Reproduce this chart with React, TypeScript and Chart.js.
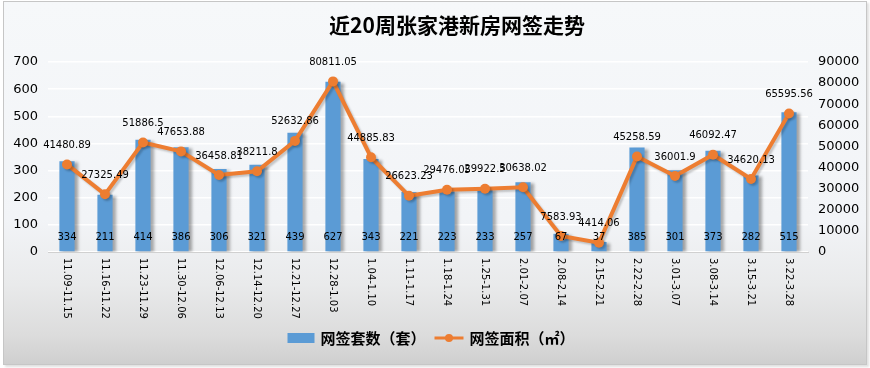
import React, { useEffect, useRef } from "react";
import { Chart, registerables } from "chart.js";

Chart.register(...registerables);

const titleText = "近20周张家港新房网签走势";
const categories = [
  "11.09-11.15", "11.16-11.22", "11.23-11.29", "11.30-12.06", "12.06-12.13",
  "12.14-12.20", "12.21-12.27", "12.28-1.03", "1.04-1.10", "1.11-1.17",
  "1.18-1.24", "1.25-1.31", "2.01-2.07", "2.08-2.14", "2.15-2.21",
  "2.22-2.28", "3.01-3.07", "3.08-3.14", "3.15-3.21", "3.22-3.28",
];
const barName = "网签套数（套）";
const lineName = "网签面积（㎡）";
const countValues = [334, 211, 414, 386, 306, 321, 439, 627, 343, 221, 223, 233, 257, 67, 37, 385, 301, 373, 282, 515];
const areaValues = [
  41480.89, 27325.49, 51886.5, 47653.88, 36458.81, 38211.8, 52632.86, 80811.05, 44885.83, 26623.23,
  29476.05, 29922.5, 30638.02, 7583.93, 4414.06, 45258.59, 36001.9, 46092.47, 34620.13, 65595.56,
];
const areaLabels = [
  "41480.89", "27325.49", "51886.5", "47653.88", "36458.81", "38211.8", "52632.86", "80811.05", "44885.83", "26623.23",
  "29476.05", "29922.5", "30638.02", "7583.93", "4414.06", "45258.59", "36001.9", "46092.47", "34620.13", "65595.56",
];
const leftMax = 700;
const leftStep = 100;
const rightMax = 90000;
const rightStep = 10000;

const BLUE = "#5b9bd5";
const ORANGE = "#ed7d31";
const NUM_FONT = '"DejaVu Sans", sans-serif';
const CJK_FONT = '"Noto Sans CJK SC", sans-serif';

const decorPlugin = {
  id: "decor",
  beforeDatasetDraw(chart: any, args: any) {
    const ctx = chart.ctx;
    ctx.save();
    if (args.index === 0) {
      ctx.shadowColor = "rgba(0,0,0,0.35)";
      ctx.shadowOffsetX = 3;
      ctx.shadowOffsetY = 1;
      ctx.shadowBlur = 3;
    } else {
      ctx.shadowColor = "rgba(0,0,0,0.2)";
      ctx.shadowOffsetX = 2;
      ctx.shadowOffsetY = 2;
      ctx.shadowBlur = 2;
    }
  },
  afterDatasetDraw(chart: any) {
    chart.ctx.restore();
  },
  afterDraw(chart: any) {
    const ctx = chart.ctx;
    const xScale = chart.scales.x;
    const yScale = chart.scales.y;
    const zeroY = yScale.getPixelForValue(0);

    // Title
    ctx.save();
    ctx.fillStyle = "#000";
    ctx.font = `bold 21px ${CJK_FONT}`;
    ctx.textAlign = "center";
    ctx.textBaseline = "middle";
    ctx.fillText(titleText, 457, 25);
    ctx.restore();

    // Bar value labels
    const barMeta = chart.getDatasetMeta(0);
    ctx.save();
    ctx.fillStyle = "#000";
    ctx.font = `10px ${NUM_FONT}`;
    ctx.textAlign = "center";
    ctx.textBaseline = "middle";
    barMeta.data.forEach((el: any, i: number) => {
      ctx.fillText(String(countValues[i]), el.x, zeroY - 15);
    });
    ctx.restore();

    // Line value labels
    const lineMeta = chart.getDatasetMeta(1);
    ctx.save();
    ctx.fillStyle = "#000";
    ctx.font = `10px ${NUM_FONT}`;
    ctx.textAlign = "center";
    ctx.textBaseline = "middle";
    lineMeta.data.forEach((el: any, i: number) => {
      ctx.fillText(areaLabels[i], el.x, el.y - 19);
    });
    ctx.restore();

    // X category labels (rotated clockwise, reading top to bottom)
    ctx.save();
    ctx.fillStyle = "#000";
    ctx.font = `10px ${NUM_FONT}`;
    ctx.textAlign = "left";
    ctx.textBaseline = "middle";
    categories.forEach((c, i) => {
      const x = xScale.getPixelForValue(i);
      ctx.save();
      ctx.translate(x, zeroY + 6);
      ctx.rotate(Math.PI / 2);
      ctx.fillText(c, 0, 0);
      ctx.restore();
    });
    ctx.restore();

    // Legend
    ctx.save();
    ctx.font = `bold 15px ${CJK_FONT}`;
    const w1 = ctx.measureText(barName).width;
    const w2 = ctx.measureText(lineName).width;
    const total = 27 + 6 + w1 + 9 + 29 + 6 + w2;
    let lx = 431 - total / 2;
    const ly = 338;
    ctx.fillStyle = BLUE;
    ctx.fillRect(lx, ly - 5, 27, 10);
    lx += 33;
    ctx.fillStyle = "#000";
    ctx.textAlign = "left";
    ctx.textBaseline = "middle";
    ctx.fillText(barName, lx, ly);
    lx += w1 + 9;
    ctx.strokeStyle = ORANGE;
    ctx.lineWidth = 3;
    ctx.beginPath();
    ctx.moveTo(lx, ly);
    ctx.lineTo(lx + 29, ly);
    ctx.stroke();
    ctx.fillStyle = ORANGE;
    ctx.beginPath();
    ctx.arc(lx + 14.5, ly, 4, 0, Math.PI * 2);
    ctx.fill();
    lx += 35;
    ctx.fillStyle = "#000";
    ctx.fillText(lineName, lx, ly);
    ctx.restore();
  },
};

export default function App() {
  const canvasRef = useRef<HTMLCanvasElement | null>(null);

  useEffect(() => {
    const canvas = canvasRef.current;
    if (!canvas) return;
    const chart = new Chart(canvas, {
      type: "bar",
      data: {
        labels: categories,
        datasets: [
          {
            type: "bar",
            label: barName,
            data: countValues,
            yAxisID: "y",
            backgroundColor: BLUE,
            barPercentage: 0.4,
            categoryPercentage: 1,
            order: 2,
          },
          {
            type: "line",
            label: lineName,
            data: areaValues,
            yAxisID: "y1",
            borderColor: ORANGE,
            backgroundColor: ORANGE,
            borderWidth: 4,
            pointRadius: 5,
            pointBorderWidth: 0,
            pointBackgroundColor: ORANGE,
            pointBorderColor: ORANGE,
            tension: 0,
            order: 1,
          },
        ],
      } as any,
      options: {
        responsive: false,
        animation: false,
        devicePixelRatio: 1,
        layout: { padding: { left: 0, right: 0, top: 62, bottom: 0 } },
        plugins: {
          legend: { display: false },
          title: { display: false },
          tooltip: { enabled: false },
        },
        scales: {
          x: {
            grid: { display: false, drawTicks: false },
            border: { display: true, color: "#d0d0d0", width: 1 },
            ticks: { display: false },
            afterFit: (s: any) => {
              s.height = 116;
            },
          },
          y: {
            position: "left",
            min: 0,
            max: leftMax,
            ticks: {
              stepSize: leftStep,
              padding: 10,
              color: "#000",
              font: { family: NUM_FONT, size: 13 },
              callback: (v: any) => String(v),
            },
            grid: { color: "#ffffff", lineWidth: 1.5, drawTicks: false },
            border: { display: false },
            afterFit: (s: any) => {
              s.width = 48;
            },
          },
          y1: {
            position: "right",
            min: 0,
            max: rightMax,
            ticks: {
              stepSize: rightStep,
              padding: 10,
              color: "#000",
              font: { family: NUM_FONT, size: 13 },
              callback: (v: any) => String(v),
            },
            grid: { drawOnChartArea: false, drawTicks: false },
            border: { display: false },
            afterFit: (s: any) => {
              s.width = 62;
            },
          },
        },
      } as any,
      plugins: [decorPlugin],
    });
    return () => chart.destroy();
  }, []);

  return (
    <div
      style={{
        position: "fixed",
        left: 0,
        top: 0,
        width: 870,
        height: 368,
        background: "#ffffff",
      }}
    >
      <div
        style={{
          position: "absolute",
          left: 3,
          top: 1,
          width: 862,
          height: 362,
          border: "1px solid #c6c6c6",
          boxShadow: "2px 2px 2px rgba(0,0,0,0.12)",
          background:
            "linear-gradient(to bottom, #f6f8fa 0%, #f2f4f7 60%, #e9eaeb 78%, #dcdcdc 92%, #cfcfcf 100%)",
        }}
      />
      <canvas
        ref={canvasRef}
        width={870}
        height={368}
        style={{ position: "absolute", left: 0, top: 0, width: 870, height: 368 }}
      />
    </div>
  );
}
